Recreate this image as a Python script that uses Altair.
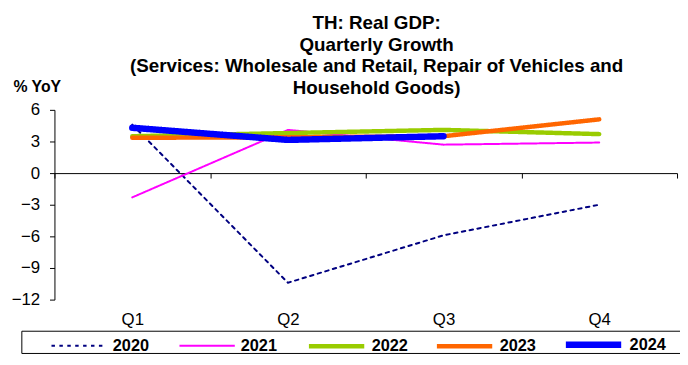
import altair as alt
import pandas as pd

quarters = ["Q1", "Q2", "Q3", "Q4"]
years = ["2020", "2021", "2022", "2023", "2024"]
v2020 = [4.6, -10.4, -5.9, -3.0]
v2021 = [-2.3, 4.1, 2.7, 2.9]
v2022 = [3.5, 3.8, 4.1, 3.7]
v2023 = [3.35, 3.4, 3.5, 5.1]
v2024 = [4.3, 3.15, 3.5]

series = [v2020, v2021, v2022, v2023, v2024]
rows = []
for y, vals in zip(years, series):
    for q, v in zip(quarters, vals):
        rows.append({"year": y, "quarter": q, "value": v})
df = pd.DataFrame(rows)

colors = ["#000080", "#FF00FF", "#99CC00", "#FF6600", "#0000FF"]
widths = [2, 2, 4.5, 4.5, 6.5]
dashes = [[3.5, 4.5], [1, 0], [1, 0], [1, 0], [1, 0]]

FONT = "Liberation Sans"

leg = alt.Legend(
    orient="none", legendX=-4, legendY=206, direction="horizontal", title=None,
    symbolType="stroke", symbolSize=3136, labelFont=FONT, labelFontSize=16.5,
    labelFontWeight="bold", labelColor="black", labelOffset=5, columnPadding=14.5,
    gridAlign="all", padding=0,
)

lines = alt.Chart(df).mark_line(strokeCap="round", strokeJoin="round").encode(
    x=alt.X("quarter:N", sort=quarters, bandPosition=0.5,
            scale=alt.Scale(type="band", paddingInner=0, paddingOuter=0),
            axis=alt.Axis(title=None, labelAngle=0, offset=-128, tickBand="extent",
                          tickSize=5, labelPadding=135, labelFont=FONT, labelFontSize=17,
                          labelColor="black", domainColor="black", tickColor="black")),
    y=alt.Y("value:Q", scale=alt.Scale(domain=[-12, 6], nice=False, zero=False),
            axis=alt.Axis(values=[-12, -9, -6, -3, 0, 3, 6], tickSize=5, labelPadding=10,
                          labelExpr="datum.value >= 0 ? datum.label + '\u2007' : datum.label",
                          labelFont=FONT, labelFontSize=17, labelColor="black",
                          domainColor="black", tickColor="black", grid=False,
                          title="% YoY", titleAngle=0, titleX=-42, titleY=-24,
                          titleAlign="left", titleBaseline="middle", titleFont=FONT,
                          titleFontSize=16, titleFontWeight="bold", titleColor="black")),
    color=alt.Color("year:N", scale=alt.Scale(domain=years, range=colors), legend=leg),
    strokeWidth=alt.StrokeWidth("year:N", scale=alt.Scale(type="ordinal", domain=years, range=widths), legend=leg),
    strokeDash=alt.StrokeDash("year:N", scale=alt.Scale(domain=years, range=dashes), legend=leg),
    order=alt.Order("year:N"),
)

box = alt.Chart(pd.DataFrame({"a": [0]})).mark_rect(filled=False, stroke="black", strokeWidth=1).encode(
    x=alt.value(-33), x2=alt.value(660), y=alt.value(224), y2=alt.value(246.5)
)

chart = alt.layer(box, lines).properties(
    width=630, height=192,
    title=alt.TitleParams(
        ["TH: Real GDP:", "Quarterly Growth",
         "(Services: Wholesale and Retail, Repair of Vehicles and", "Household Goods)"],
        font=FONT, fontSize=19, fontWeight="bold", color="black", lineHeight=22,
        anchor="middle", frame="group", dx=11, dy=32, offset=12),
    autosize=alt.AutoSizeParams(type="none"),
    padding={"left": 47, "top": 101, "right": 3, "bottom": 56},
    background="white",
).configure_view(stroke=None)

chart.save("out.html", embed_options={"renderer": "svg", "actions": False})
